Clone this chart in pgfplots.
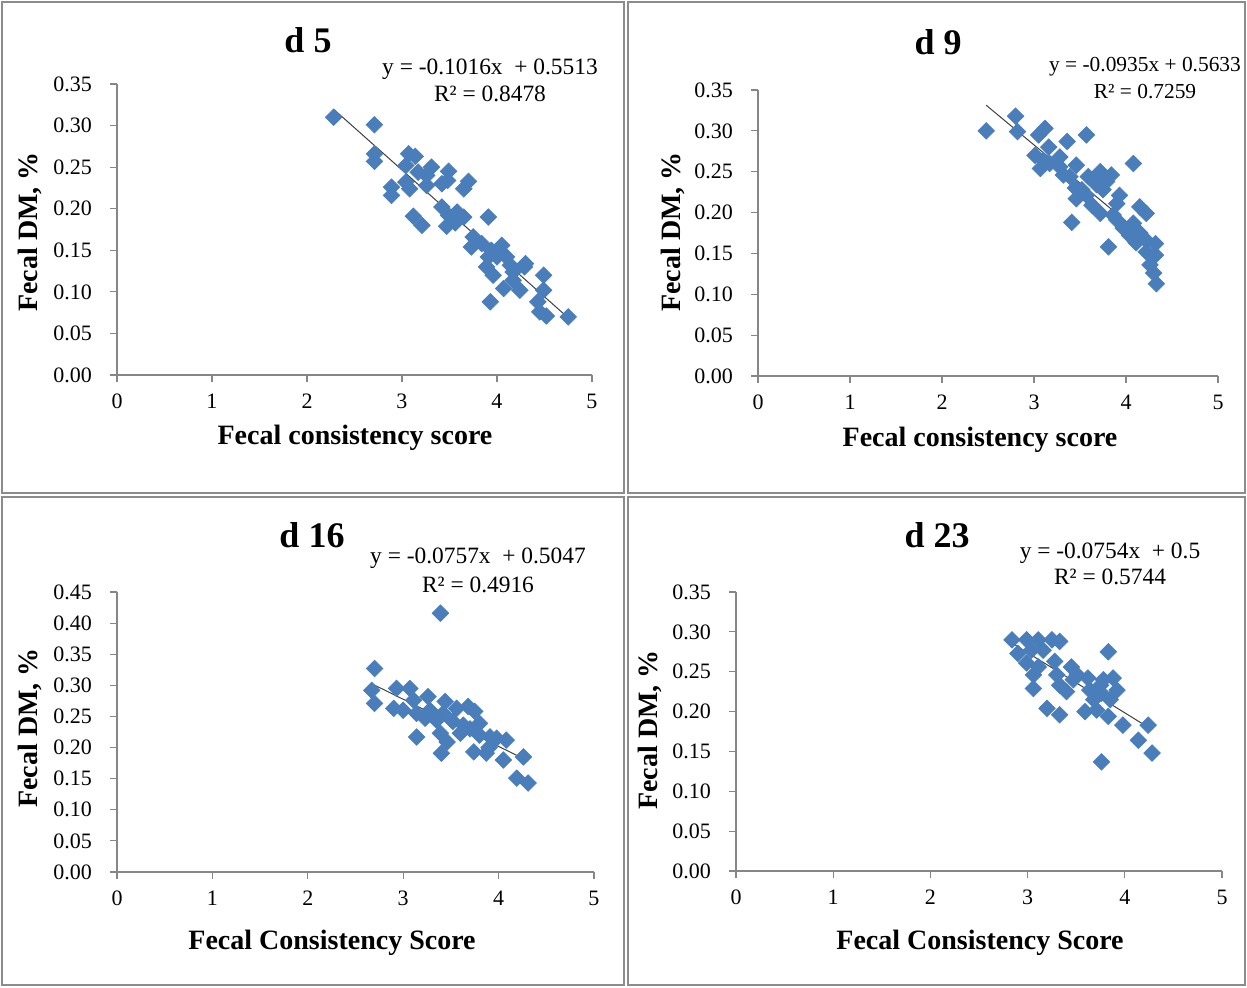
\documentclass[border=0pt]{standalone}
\usepackage{pgfplots}
\pgfplotsset{compat=1.18}
\usepackage{fontspec}
\setmainfont{Liberation Serif}
\definecolor{mk}{RGB}{74,126,187}
\definecolor{ax}{RGB}{134,134,134}
\definecolor{fr}{RGB}{140,140,140}
\pgfplotsset{
 panel/.style={
  scale only axis,
  anchor=south west,
  axis lines=left,
  axis line style={-,ax,line width=0.6pt},
  tick align=outside,
  major tick length=3.5pt,
  tick style={ax,line width=0.6pt},
  xmin=0,xmax=5,ymin=0,
  xtick={0,1,2,3,4,5},
  y tick label style={/pgf/number format/fixed,/pgf/number format/fixed zerofill,/pgf/number format/precision=2,xshift=-5.5pt},
  x tick label style={yshift=-2.5pt},
  /pgf/number format/assume math mode=true,
  ticklabel style={font=\fontsize{11}{13}\selectfont},
  clip=false,
 },
 pts/.style={only marks, mark=square*, mark size=2.9pt, mark options={rotate=45, fill=mk, draw=mk}},
 trend/.style={no marks, black!75, line width=0.5pt},
}
\tikzset{
 ttl/.style={font=\fontsize{18}{20}\selectfont\bfseries},
 eqn/.style={font=\fontsize{11.7}{13}\selectfont},
 eqs/.style={font=\fontsize{10.7}{12}\selectfont},
 lab/.style={font=\fontsize{14}{16}\selectfont\bfseries},
}
\begin{document}
\begin{tikzpicture}
\useasboundingbox (0,0) rectangle (623.5pt,493.5pt);
\draw[fr,line width=1pt] (1pt,492.5pt) rectangle (312pt,247pt);
\draw[fr,line width=1pt] (314pt,492.5pt) rectangle (622.5pt,247pt);
\draw[fr,line width=1pt] (1pt,245pt) rectangle (312pt,1pt);
\draw[fr,line width=1pt] (314pt,245pt) rectangle (622.5pt,1pt);

% ---------- d 5 ----------
\begin{axis}[panel, at={(58.5pt,306pt)}, width=237.5pt, height=145.5pt,
  ymax=0.35, ytick={0,0.05,0.10,0.15,0.20,0.25,0.30,0.35}]
\addplot[pts] table {
x y
2.28 0.310
2.71 0.301
2.71 0.266
2.71 0.257
3.07 0.266
3.14 0.263
3.04 0.252
3.31 0.250
3.17 0.244
3.26 0.240
3.49 0.245
3.42 0.230
3.48 0.234
3.70 0.233
3.65 0.224
2.89 0.226
2.89 0.216
3.04 0.232
3.08 0.224
3.26 0.228
3.12 0.191
3.21 0.180
3.42 0.202
3.49 0.192
3.58 0.196
3.65 0.190
3.47 0.179
3.56 0.183
3.91 0.190
3.75 0.166
3.73 0.154
3.84 0.158
4.05 0.156
3.91 0.142
3.89 0.130
4.00 0.142
4.10 0.142
4.14 0.132
4.29 0.130
3.96 0.120
4.07 0.104
4.17 0.114
4.24 0.102
4.49 0.120
4.49 0.102
3.93 0.088
4.43 0.088
4.45 0.076
4.52 0.071
4.75 0.070
4.17 0.124
4.30 0.134
3.94 0.150
};
\addplot[trend] coordinates {(2.28,0.3197) (4.75,0.0687)};
\end{axis}
\node[ttl] at (154pt,473.5pt) {d 5};
\node[eqn] at (245pt,459pt) {y = -0.1016x \ + 0.5513};
\node[eqn] at (245pt,446.5pt) {R² = 0.8478};
\node[lab,rotate=90] at (15pt,377.5pt) {Fecal DM, \%};
\node[lab] at (177.5pt,274.5pt) {Fecal consistency score};

% ---------- d 9 ----------
\begin{axis}[panel, at={(379pt,305.5pt)}, width=230pt, height=143pt,
  ymax=0.35, ytick={0,0.05,0.10,0.15,0.20,0.25,0.30,0.35}]
\addplot[pts] table {
x y
2.48 0.300
2.80 0.318
2.82 0.299
3.05 0.295
3.12 0.303
3.36 0.287
3.57 0.295
3.16 0.280
3.01 0.270
3.10 0.264
3.07 0.254
3.17 0.260
3.28 0.268
4.08 0.260
3.28 0.256
3.46 0.258
3.39 0.244
3.59 0.244
3.72 0.250
3.84 0.246
3.45 0.230
3.68 0.234
3.79 0.238
3.46 0.217
3.57 0.221
3.93 0.221
3.63 0.209
3.72 0.199
3.90 0.211
4.15 0.207
4.22 0.199
3.41 0.188
3.90 0.191
3.97 0.181
4.08 0.187
4.04 0.172
4.15 0.175
4.22 0.166
4.32 0.162
3.81 0.158
4.22 0.152
4.32 0.148
4.26 0.136
4.30 0.126
4.33 0.113
3.75 0.228
3.52 0.228
3.32 0.246
3.86 0.197
4.11 0.163
};
\addplot[trend] coordinates {(2.48,0.3314) (4.33,0.1584)};
\end{axis}
\node[ttl] at (469pt,472.5pt) {d 9};
\node[eqs] at (572.5pt,460pt) {y = -0.0935x + 0.5633};
\node[eqs] at (572.5pt,447.5pt) {R² = 0.7259};
\node[lab,rotate=90] at (336.5pt,377.5pt) {Fecal DM, \%};
\node[lab] at (490pt,273.5pt) {Fecal consistency score};

% ---------- d 16 ----------
\begin{axis}[panel, at={(58.5pt,57.5pt)}, width=238.5pt, height=140pt,
  ymax=0.45, ytick={0,0.05,0.10,0.15,0.20,0.25,0.30,0.35,0.40,0.45}]
\addplot[pts] table {
x y
3.39 0.416
2.70 0.327
2.67 0.292
2.70 0.271
2.93 0.295
3.07 0.295
2.90 0.263
3.00 0.260
3.11 0.276
3.14 0.255
3.26 0.282
3.28 0.260
3.44 0.274
3.42 0.255
3.56 0.263
3.68 0.266
3.75 0.258
3.35 0.244
3.52 0.242
3.63 0.236
3.80 0.239
3.14 0.217
3.39 0.223
3.46 0.209
3.60 0.223
3.80 0.220
3.91 0.217
4.08 0.212
3.40 0.191
3.74 0.193
3.87 0.191
4.05 0.180
4.26 0.185
4.19 0.151
4.31 0.143
3.98 0.215
3.70 0.230
3.90 0.200
3.23 0.247
};
\addplot[trend] coordinates {(2.67,0.3026) (4.31,0.1784)};
\end{axis}
\node[ttl] at (156pt,226pt) {d 16};
\node[eqn] at (239pt,214.5pt) {y = -0.0757x \ + 0.5047};
\node[eqn] at (239pt,201pt) {R² = 0.4916};
\node[lab,rotate=90] at (15pt,129.5pt) {Fecal DM, \%};
\node[lab] at (166pt,22pt) {Fecal Consistency Score};

% ---------- d 23 ----------
\begin{axis}[panel, at={(368pt,58pt)}, width=243pt, height=139.5pt,
  ymax=0.35, ytick={0,0.05,0.10,0.15,0.20,0.25,0.30,0.35}]
\addplot[pts] table {
x y
2.84 0.290
2.99 0.290
3.11 0.290
3.25 0.290
3.33 0.288
2.90 0.273
3.04 0.277
3.16 0.277
3.83 0.275
2.99 0.261
3.11 0.256
3.28 0.263
3.45 0.256
3.06 0.246
3.30 0.246
3.06 0.229
3.33 0.233
3.47 0.240
3.62 0.242
3.78 0.240
3.88 0.242
3.40 0.225
3.64 0.227
3.76 0.223
3.92 0.227
3.68 0.215
3.85 0.215
3.20 0.204
3.33 0.196
3.59 0.200
3.71 0.202
3.83 0.194
3.98 0.183
4.24 0.183
4.14 0.164
4.28 0.148
3.76 0.137
3.51 0.246
3.75 0.233
};
\addplot[trend] coordinates {(2.84,0.2859) (4.28,0.1773)};
\end{axis}
\node[ttl] at (468.5pt,226pt) {d 23};
\node[eqn] at (555pt,217pt) {y = -0.0754x \ + 0.5};
\node[eqn] at (555pt,205pt) {R² = 0.5744};
\node[lab,rotate=90] at (325pt,128.5pt) {Fecal DM, \%};
\node[lab] at (490pt,22pt) {Fecal Consistency Score};
\end{tikzpicture}
\end{document}
